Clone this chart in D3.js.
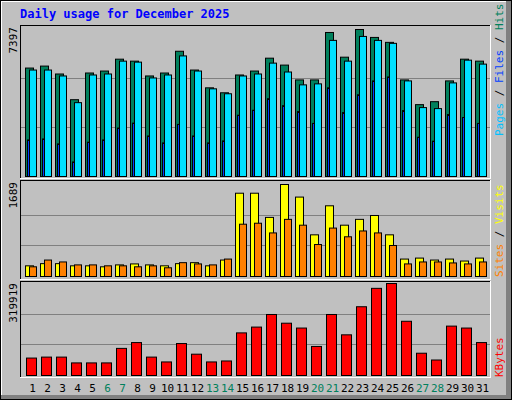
<!DOCTYPE html>
<html><head><meta charset="utf-8">
<script src="https://cdn.jsdelivr.net/npm/d3@7"></script>
<style>body{margin:0;background:#fff}svg{display:block}</style>
</head><body><svg id="c" width="512" height="400"></svg>
<script>
const days = d3.range(1,32).map(String);
const weekend = ["6","7","13","14","20","21","27","28"];
const hits  = [5457,5556,5158,3865,5208,5307,5904,5805,5059,5208,6302,5357,4462,4213,5108,5307,5954,5606,4860,4860,7247,6004,7397,6998,6750,4860,3616,3765,4810,5904,5805];
const files = [5357,5357,5059,3716,5108,5158,5805,5755,4959,5108,6068,5307,4412,4163,5059,5158,5705,5258,4611,4661,6849,5805,7048,6849,6700,4810,3467,3417,4710,5854,5655];
const pages = [1840,1890,1641,731,1726,1840,2437,2686,2039,1691,2621,2039,1691,1791,3084,3333,3915,3566,3268,2671,4462,3218,4114,4810,5009,3318,1975,1776,3119,2969,2671];
const visits= [196,236,236,196,196,178,213,231,213,196,236,254,196,302,1529,1529,1085,1689,1458,765,1298,942,1049,1120,765,320,338,302,320,284,338];
const sites = [178,302,267,213,213,196,196,178,196,160,254,231,213,320,960,978,800,1049,942,587,889,729,836,800,569,231,267,267,249,231,267];
const kbytes= [60617,63984,63984,43779,43779,43779,94293,114498,63984,47146,111131,74087,47146,50514,148174,168380,212159,181850,165012,101028,212159,141439,239100,303084,319919,188586,77455,53882,171748,165012,114498];

const svg = d3.select("#c");
const F = "'DejaVu Sans Mono', monospace";
svg.append("rect").attr("x",0.5).attr("y",0.5).attr("width",511).attr("height",399).attr("fill","#c0c0c0").attr("stroke","#000");
svg.append("line").attr("x1",1).attr("y1",1.5).attr("x2",506).attr("y2",1.5).attr("stroke","#fff");
svg.append("line").attr("x1",1.5).attr("y1",1).attr("x2",1.5).attr("y2",396).attr("stroke","#fff");
svg.append("rect").attr("x",506).attr("y",1).attr("width",5).attr("height",398).attr("fill","#808080");
svg.append("rect").attr("x",1).attr("y",395).attr("width",510).attr("height",4).attr("fill","#808080");

svg.append("text").attr("x",20).attr("y",18).attr("font-family",F).attr("font-weight","bold").attr("font-size",12).attr("fill","#0000ff").text("Daily usage for December 2025");

const x = d3.scaleBand().domain(days).range([24,489]).padding(0);
const L=20,R=491;

function panel(top,bot,base,ytop,max,label){
  svg.append("rect").attr("x",L).attr("y",top).attr("width",R-L).attr("height",bot-top).attr("fill","#c0c0c0");
  const y = d3.scaleLinear().domain([0,max]).range([base,ytop]);
  [1/3,2/3].forEach(f=>{
    const gy=Math.round(y(max*f))+0.5;
    svg.append("line").attr("x1",L).attr("x2",R).attr("y1",gy).attr("y2",gy).attr("stroke","#808080");
  });
  svg.append("line").attr("x1",L).attr("x2",R).attr("y1",top+0.5).attr("y2",top+0.5).attr("stroke","#000");
  svg.append("line").attr("x1",L+0.5).attr("x2",L+0.5).attr("y1",top).attr("y2",bot).attr("stroke","#000");
  svg.append("line").attr("x1",L).attr("x2",R).attr("y1",bot-0.5).attr("y2",bot-0.5).attr("stroke","#fff");
  svg.append("line").attr("x1",R-0.5).attr("x2",R-0.5).attr("y1",top).attr("y2",bot).attr("stroke","#fff");
  svg.append("text").attr("transform",`translate(17,${top+2}) rotate(-90)`).attr("text-anchor","end")
    .attr("font-family",F).attr("font-size",11).attr("fill","#000").text(label);
  return y;
}
function bars(y,data,off,w,color){
  svg.append("g").selectAll("rect").data(data).enter().append("rect")
   .attr("x",(d,i)=>x(days[i])+off+0.5).attr("width",w)
   .attr("y",d=>y(d)+0.5).attr("height",d=>y(0)-y(d))
   .attr("fill",color).attr("stroke","#000").attr("stroke-width",1);
}
function rlabel(parts,bottom){
  const t=svg.append("text").attr("transform",`translate(503,${bottom}) rotate(-90)`)
   .attr("font-family",F).attr("font-size",11);
  parts.forEach(p=>t.append("tspan").attr("fill",p[1]).text(p[0]));
}

const y1 = panel(25,179,176,29,d3.max(hits),"7397");
bars(y1,hits,1,8,"#00805c");
bars(y1,files,5,7,"#00e0ff");
bars(y1,pages,3,2,"#0040ff");
rlabel([["Pages","#00c0ff"],[" / ","#000"],["Files","#0040ff"],[" / ","#000"],["Hits","#00805c"]],136);

const y2 = panel(180,280,276,184,d3.max(visits),"1689");
bars(y2,visits,1,8,"#ffff00");
bars(y2,sites,5,7,"#ff8000");
rlabel([["Sites","#ff8000"],[" / ","#000"],["Visits","#ffff00"]],277);

const y3 = panel(281,378,375,283,d3.max(kbytes),"319919");
bars(y3,kbytes,2,10,"#ff0000");
rlabel([["KBytes","#ff0000"]],377);

svg.append("g").selectAll("text").data(days).enter().append("text")
  .attr("x",d=>x(d)+x.bandwidth()/2+1).attr("y",392).attr("text-anchor","middle")
  .attr("font-family",F).attr("font-size",11)
  .attr("fill",d=>weekend.includes(d)?"#00805c":"#000").text(d=>d);
</script></body></html>
